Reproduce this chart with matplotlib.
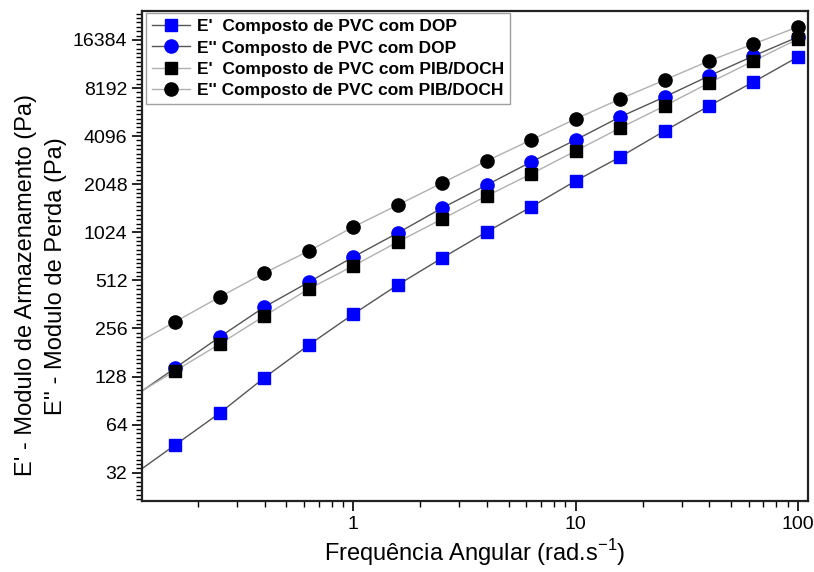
import numpy as np
import matplotlib
matplotlib.use("Agg")
import matplotlib.pyplot as plt
from matplotlib.ticker import FixedLocator, NullFormatter, LogLocator, FuncFormatter

plt.rcParams['font.family'] = ['Liberation Sans', 'DejaVu Sans']

freq = [0.158, 0.251, 0.398, 0.631, 1.0, 1.585, 2.512, 3.981, 6.31, 10.0,
        15.85, 25.12, 39.81, 63.1, 100.0]
e1_dop = [47.8, 75.8, 126, 202, 315, 480, 708, 1030, 1477, 2148, 3034, 4414, 6328, 8941, 12819]
e2_dop = [145, 227, 349, 500, 718, 1015, 1455, 2026, 2823, 3878, 5402, 7203, 9750, 13004, 17099]
e1_pib = [139, 205, 307, 453, 631, 892, 1242, 1729, 2375, 3308, 4608, 6328, 8817, 12103, 16617]
e2_pib = [282, 404, 570, 783, 1106, 1519, 2087, 2864, 3878, 5248, 6997, 9191, 12103, 15461, 19781]

labels = ["E'  Composto de PVC com DOP",
          "E'' Composto de PVC com DOP",
          "E'  Composto de PVC com PIB/DOCH",
          "E'' Composto de PVC com PIB/DOCH"]
series = [e1_dop, e2_dop, e1_pib, e2_pib]
markers = ['s', 'o', 's', 'o']
mcolors = ['#0000ff', '#0000ff', '#000000', '#000000']
lcolors = ['#555555', '#555555', '#b0b0b0', '#b0b0b0']
msizes = [8.5, 9.5, 8.5, 9.5]

yticks = [32, 64, 128, 256, 512, 1024, 2048, 4096, 8192, 16384]
xlim = (0.112, 111)
ylim = (21.3, 24870)

fig = plt.figure(figsize=(8.14, 5.72), dpi=100)
ax = fig.add_axes([0.1744, 0.1241, 0.8182, 0.8567])
ax.set_xscale('log')
ax.set_yscale('log', base=2)
ax.set_xlim(*xlim)
ax.set_ylim(*ylim)

fx = np.array(freq)
for ys, lab, m, mc, lc, ms in zip(series, labels, markers, mcolors, lcolors, msizes):
    ya = np.array(ys, dtype=float)
    slope = np.log(ya[1] / ya[0]) / np.log(fx[1] / fx[0])
    x0 = xlim[0]
    y0 = ya[0] * (x0 / fx[0]) ** slope
    lx = np.concatenate([[x0], fx])
    ly = np.concatenate([[y0], ya])
    ax.plot(lx, ly, '-', color=lc, lw=1.0, zorder=1)
    ax.plot(fx, ya, linestyle='none', marker=m, color=mc, ms=ms, zorder=3)
    ax.plot([], [], '-', color=lc, lw=1.0, marker=m, mfc=mc, mec=mc, ms=ms, label=lab)

ax.yaxis.set_major_locator(FixedLocator(yticks))
ax.yaxis.set_major_formatter(FuncFormatter(lambda v, p: "%d" % round(v)))
minor = []
for t in [16] + yticks:
    for k in range(1, 11):
        minor.append(t * 2 ** (k / 11))
ax.yaxis.set_minor_locator(FixedLocator(minor))
ax.yaxis.set_minor_formatter(NullFormatter())

ax.xaxis.set_major_locator(FixedLocator([1, 10, 100]))
ax.xaxis.set_major_formatter(FuncFormatter(lambda v, p: "%g" % v))
ax.xaxis.set_minor_locator(LogLocator(base=10, subs=np.arange(2, 10)))
ax.xaxis.set_minor_formatter(NullFormatter())

ax.tick_params(axis='both', which='major', direction='out', length=7, width=1.2, labelsize=14, colors='black')
ax.tick_params(axis='both', which='minor', direction='out', length=4, width=1.0)
ax.tick_params(top=False, right=False, which='both')
for s in ax.spines.values():
    s.set_linewidth(1.6)
    s.set_color('#222222')

ax.set_xlabel("Frequência Angular (rad.s$^{\\mathregular{-1}}$)", fontsize=17, labelpad=3)

fig.text(26 / 814, 1 - 285 / 572, "E' - Modulo de Armazenamento (Pa)", rotation=90,
         fontsize=17, ha='center', va='center')
fig.text(56 / 814, 1 - 276 / 572, "E'' - Modulo de Perda (Pa)", rotation=90,
         fontsize=17, ha='center', va='center')

leg = ax.legend(loc='upper left', bbox_to_anchor=(0.006, 0.996), prop={'weight': 'bold', 'size': 12.5},
                handlelength=2.2, handletextpad=0.4, labelspacing=0.36, borderpad=0.35,
                fancybox=False, frameon=True, borderaxespad=0)
leg.get_frame().set_edgecolor('#888888')
leg.get_frame().set_linewidth(1.0)

fig.savefig('out.png', dpi=100, facecolor='white')
